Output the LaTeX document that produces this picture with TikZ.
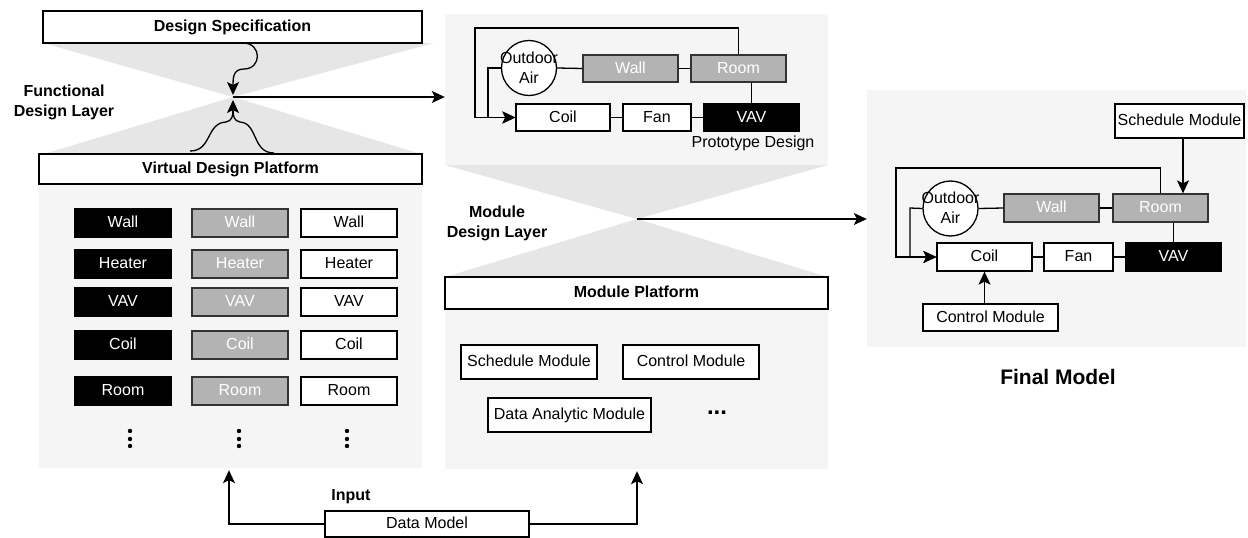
\documentclass[tikz,border=0pt]{standalone}
\usepackage{fontspec}
\setmainfont{Liberation Sans}
\usetikzlibrary{arrows.meta,calc}
\definecolor{panelgray}{HTML}{F5F5F5}
\definecolor{hourgray}{HTML}{E6E6E6}
\definecolor{boxgray}{HTML}{B3B3B3}
\begin{document}
\begin{tikzpicture}[x=1pt,y=-1pt,
  every node/.style={font=\fontsize{16}{19}\selectfont, inner sep=0pt},
  bx/.style={draw=black, line width=1.3pt, fill=white, minimum height=28pt, text height=12pt, text depth=2.5pt},
  blk/.style={bx, fill=black, text=white},
  gry/.style={bx, draw=black!80, fill=boxgray, text=white},
  ttl/.style={bx, font=\fontsize{16}{19}\selectfont\bfseries},
  panel/.style={fill=panelgray, draw=none},
  oair/.style={circle, draw=black, line width=1.3pt, fill=white, minimum size=55pt},
  conn/.style={line width=1.3pt},
  arr/.style={conn, -{Stealth[length=13pt,width=12pt,inset=3pt]}},
  lbl/.style={font=\fontsize{16}{20}\selectfont\bfseries, align=center},
]
\useasboundingbox (0,0) rectangle (1248,538);

% panels
\node[panel, minimum width=383pt, minimum height=284pt] (lpanel) at (230.5,326) {};
\node[panel, minimum width=383pt, minimum height=151pt] (ppanel) at (636.5,89.5) {};
\node[panel, minimum width=383pt, minimum height=160pt] (mpanel) at (636.5,389) {};
\node[panel, minimum width=379pt, minimum height=257pt] (fpanel) at (1056.5,218.5) {};

% hourglasses
\coordinate (apex1) at (233,97);
\coordinate (apex2) at (637,219);
\fill[hourgray] (43,43) -- (434,43) -- (apex1) -- cycle;
\fill[hourgray] (apex1) -- (44,154) -- (421,154) -- cycle;
\fill[hourgray] (445,165) -- (828,165) -- (apex2) -- cycle;
\fill[hourgray] (apex2) -- (445,277) -- (828,277) -- cycle;

% title boxes
\node[ttl, minimum width=379pt, minimum height=32pt] (spec) at (232.5,27) {Design Specification};
\node[ttl, minimum width=383pt, minimum height=30pt] (vdp) at (230.5,169) {Virtual Design Platform};
\node[ttl, minimum width=383pt, minimum height=32pt] (mp) at (636.5,293) {Module Platform};

\node[lbl] (fdl) at (64,102) {Functional\\Design Layer};
\node[lbl] (mdl) at (497,223) {Module\\Design Layer};

% grid
\foreach \t/\y/\n in {Wall/223/1, Heater/264/2, VAV/302/3, Coil/345/4, Room/391/5} {
  \node[blk, minimum width=96pt] (a\n) at (123,\y) {\t};
  \node[gry, minimum width=96pt] (b\n) at (240,\y) {\t};
  \node[bx, minimum width=96pt] (c\n) at (349,\y) {\t};
}
\foreach \x in {130,239,347} {
  \foreach \y in {431,439,446} \fill (\x,\y) circle (2.2pt);
}

% module platform items
\node[bx, minimum width=136pt, minimum height=34pt] (sm) at (529,362) {Schedule Module};
\node[bx, minimum width=136pt, minimum height=34pt] (cm) at (691,362) {Control Module};
\node[bx, minimum width=163pt, minimum height=34pt] (dam) at (569.5,415) {Data Analytic Module};
\node[font=\fontsize{24}{28}\selectfont\bfseries] (more) at (717,413) {...};

% data model
\node[bx, minimum width=204pt, minimum height=26pt] (dm) at (427,524) {Data Model};
\node[lbl] (inp) at (351,497) {Input};
\draw[arr] (dm.west) -| ($(lpanel.south)+(-1.5,2)$);
\draw[arr] (dm.east) -| ($(mpanel.south)+(0.5,2)$);

% curvy arrows
\coordinate (s1) at (243,43);
\coordinate (d1) at (233,95);
\coordinate (u1) at (190,151);
\coordinate (u2) at (274,153);
\coordinate (d2) at (233,100);
\draw[arr] (s1) .. controls (262,43) and (262,69) .. (244,69) .. controls (233,69) and (233,78) .. (d1);
\draw[conn] (u2) .. controls (252,153) and (258,123) .. (240,122) .. controls (234,121) and (233,116) .. (233,110);
\draw[arr] (u1) .. controls (212,151) and (206,123) .. (226,122) .. controls (232,121) and (233,116) .. (d2);

\draw[arr] (apex1) -- (apex1 -| ppanel.west);
\draw[arr] (apex2) -- (apex2 -| fpanel.west);

% prototype design
\node[oair] (oa1) at (529,68) {};
\node[align=center, font=\fontsize{16}{20}\selectfont] (oa1t) at (529,68) {Outdoor\\Air};
\node[gry, minimum width=95pt, minimum height=27pt] (wall1) at (630.5,68.5) {Wall};
\node[gry, minimum width=95pt, minimum height=27pt] (room1) at (738.5,68.5) {Room};
\node[bx, minimum width=94pt, minimum height=27pt] (coil1) at (563,117.5) {Coil};
\node[bx, minimum width=68pt, minimum height=27pt] (fan1) at (657,117.5) {Fan};
\node[blk, minimum width=95pt, minimum height=27pt] (vav1) at (751.5,117.5) {VAV};
\node (proto) at (753,143) {Prototype Design};
\coordinate (t1) at (475,28);
\coordinate (j1) at (488,68);
\draw[conn] (oa1.east) -- (wall1.west);
\draw[conn] (wall1.east) -- (room1.west);
\draw[conn] (coil1.east) -- (fan1.west);
\draw[conn] (fan1.east) -- (vav1.west);
\draw[conn] (room1.south -| vav1.north) -- (vav1.north);
\draw[arr] (room1.north) |- (t1) |- (coil1.west);
\draw[arr] (oa1.west) -- (j1) |- (coil1.west);

% final model
\node[bx, minimum width=129pt, minimum height=34pt] (sm2) at (1179.5,121) {Schedule Module};
\node[oair] (oa2) at (950.5,208.5) {};
\node[align=center, font=\fontsize{16}{20}\selectfont] (oa2t) at (950.5,208) {Outdoor\\Air};
\node[gry, minimum width=95pt, minimum height=28pt] (wall2) at (1051.5,208) {Wall};
\node[gry, minimum width=95pt, minimum height=28pt] (room2) at (1160.5,208) {Room};
\node[bx, minimum width=95pt, minimum height=28pt] (coil2) at (984.5,257) {Coil};
\node[bx, minimum width=69pt, minimum height=28pt] (fan2) at (1078.5,257) {Fan};
\node[blk, minimum width=95pt, minimum height=28pt] (vav2) at (1173.5,257) {VAV};
\node[bx, minimum width=135pt, minimum height=27pt] (cm2) at (990.5,317.5) {Control Module};
\node[font=\fontsize{21}{25}\selectfont\bfseries] (final) at (1058,377) {Final Model};
\coordinate (t2) at (896,168);
\coordinate (j2) at (910,208);
\coordinate (sx) at (1183,0);
\draw[conn] (oa2.east) -- (wall2.west);
\draw[conn] (wall2.east) -- (room2.west);
\draw[conn] (coil2.east) -- (fan2.west);
\draw[conn] (fan2.east) -- (vav2.west);
\draw[conn] (room2.south -| vav2.north) -- (vav2.north);
\draw[arr] (room2.north) |- (t2) |- (coil2.west);
\draw[arr] (oa2.west) -- (j2) |- (coil2.west);
\draw[arr] (sx |- sm2.south) -- (sx |- room2.north);
\draw[arr] (cm2.north -| coil2.south) -- (coil2.south);
\end{tikzpicture}
\end{document}
